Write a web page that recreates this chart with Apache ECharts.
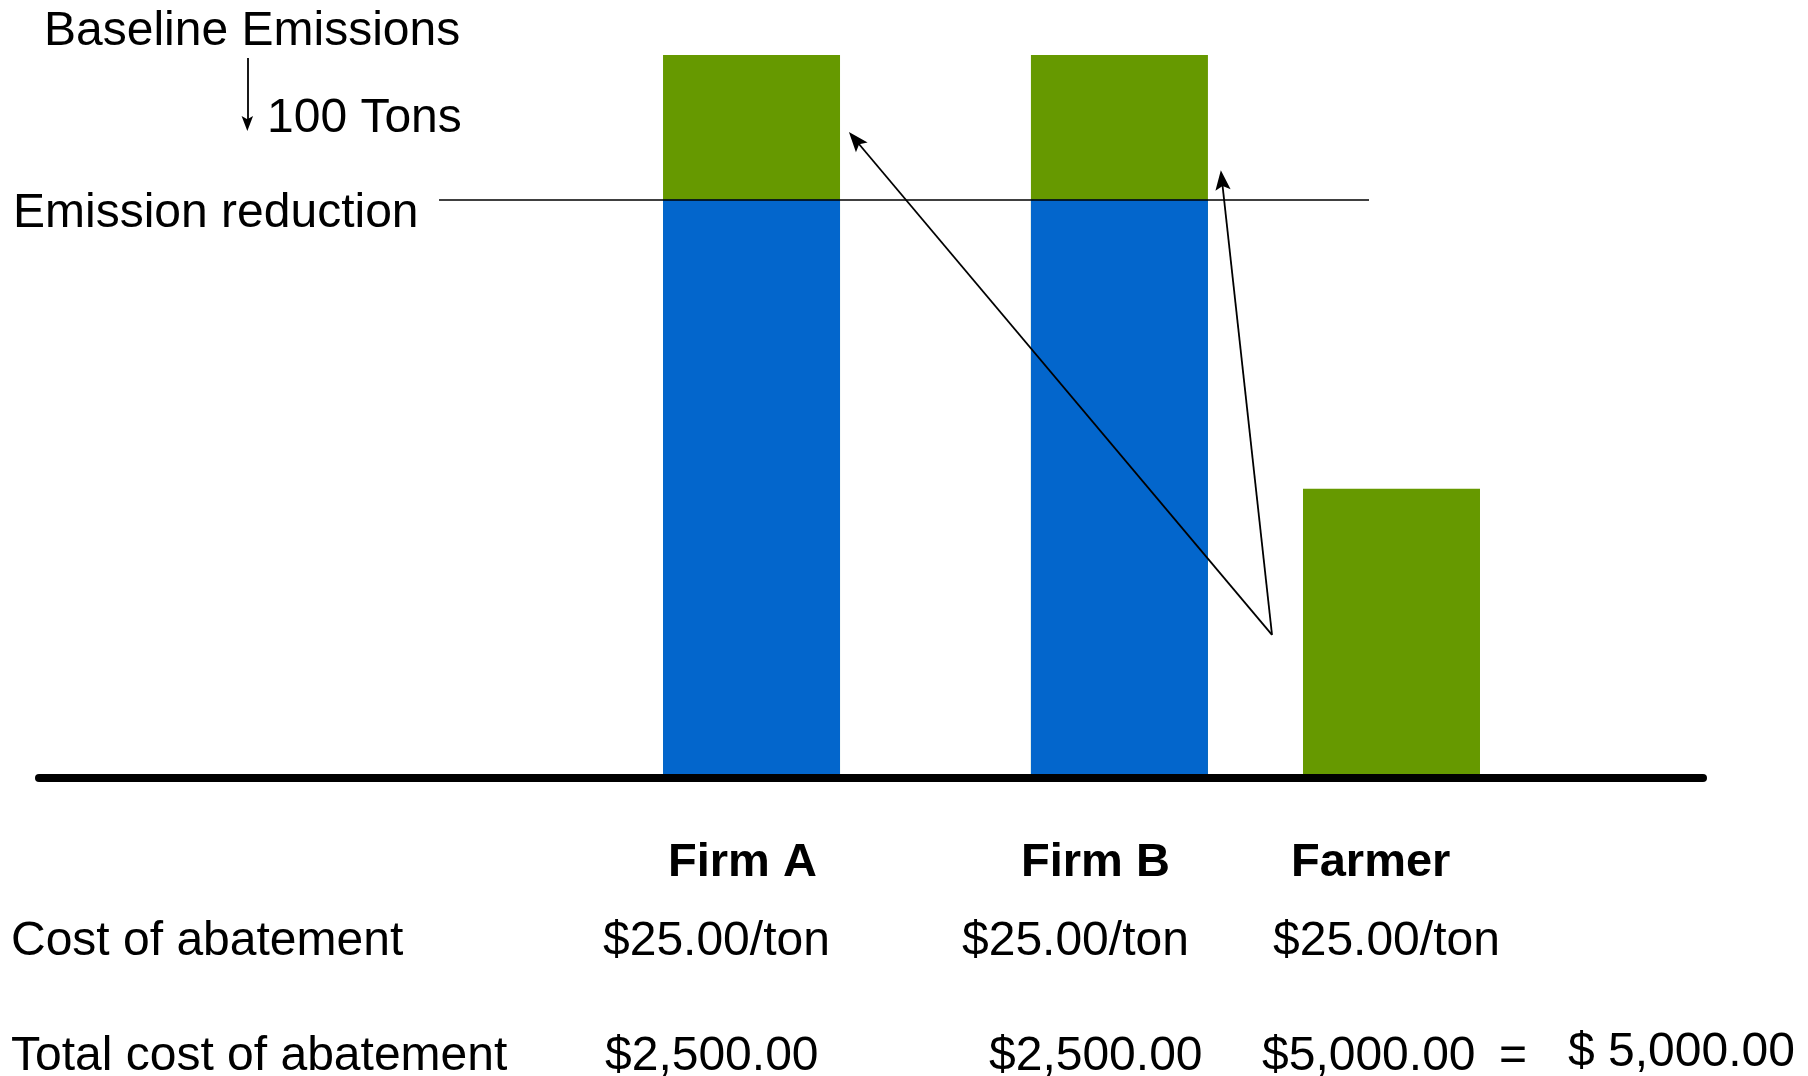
<!DOCTYPE html>
<html><head><meta charset="utf-8">
<script src="https://cdn.jsdelivr.net/npm/echarts@6/dist/echarts.min.js"></script>
<style>html,body{margin:0;padding:0;background:#fff}#c{width:1808px;height:1076px}</style>
</head><body><div id="c"></div>
<script>
// ---- data ----
const categories = ['Firm A', 'Firm B', 'Farmer'];
const remainingEmissions = [400, 400, 0];   // tons after reduction (blue part)
const abatedEmissions = [100, 100, 200];    // tons abated (green part)
const emissionReductionLevel = 400;
const baselineLevel = 500;
const costPerTonLabels = ['$25.00/ton', '$25.00/ton', '$25.00/ton'];
const totalCostLabels = ['$2,500.00', '$2,500.00', '$5,000.00'];
const sumLabel = '$ 5,000.00';
const rowLabels = ['Cost of abatement', 'Total cost of abatement'];
const annotationLabels = ['Baseline Emissions', '100 Tons', 'Emission reduction'];

// ---- layout (x-axis units 0..100 across the grid) ----
const barCenters = [42.82, 64.93, 81.28];
const FONT = '"Liberation Sans", Arial, Helvetica, sans-serif';

function txt(text, x, y, bold, size) {
  return {
    type: 'text', x: x, y: y, silent: true,
    style: {
      text: text, fill: '#000',
      font: (bold ? 'bold ' : '') + (size || 48) + 'px ' + FONT,
      textAlign: 'left', align: 'left',
      textVerticalAlign: 'middle', verticalAlign: 'middle'
    }
  };
}

const labelX = [668, 1021, 1291];
const costX = [603, 962, 1273];
const totalX = [605, 989, 1262];

const graphics = [
  txt(annotationLabels[0], 44, 32),
  txt(annotationLabels[1], 267, 119),
  txt(annotationLabels[2], 13, 214),
  txt(rowLabels[0], 11, 942),
  txt(rowLabels[1], 11, 1057),
  txt('=', 1499, 1057),
  txt(sumLabel, 1568, 1053)
];
categories.forEach((c, i) => {
  graphics.push(txt(c, labelX[i], 863, true, 47));
  graphics.push(txt(costPerTonLabels[i], costX[i], 942));
  graphics.push(txt(totalCostLabels[i], totalX[i], 1057));
});

const ARROW = 'path://M6.5,0 L13,17 L6.5,13.5 L0,17 Z';
const arrowStyle = { color: '#000', width: 1.8, type: 'solid' };

const baselineTotals = remainingEmissions.map((v, i) => v + abatedEmissions[i]);

const option = {
  animation: false,
  backgroundColor: '#fff',
  grid: { left: 39, right: 105, top: 55, bottom: 298 },
  xAxis: {
    type: 'value', min: 0, max: 100, z: 10,
    axisLine: { show: true, onZero: true, lineStyle: { color: '#000', width: 8 } },
    axisTick: { show: false }, axisLabel: { show: false }, splitLine: { show: false }
  },
  yAxis: {
    type: 'value', min: 0, max: baselineLevel, show: false,
    splitLine: { show: false }
  },
  series: [
    {
      name: 'Abated emissions', type: 'bar', barWidth: 177, barGap: '-100%',
      itemStyle: { color: '#669900' },
      emphasis: { disabled: true },
      data: barCenters.map((x, i) => [x, baselineTotals[i]]),
      markLine: {
        silent: true, symbol: ['none', ARROW], symbolSize: 20, symbolKeepAspect: true,
        label: { show: false },
        lineStyle: arrowStyle,
        itemStyle: { color: '#000' },
        emphasis: { disabled: true },
        z: 6,
        data: [
          [{ coord: [74.1, 99] }, { coord: [49.06, 441.4] }],
          [{ coord: [74.1, 99] }, { coord: [71.09, 413.5] }],
          [{ coord: [12.52, 497.9] }, { coord: [12.52, 452.6], symbolSize: 15 }]
        ]
      }
    },
    {
      name: 'Remaining emissions', type: 'bar', barWidth: 177, barGap: '-100%',
      itemStyle: { color: '#0366CC' },
      emphasis: { disabled: true },
      data: barCenters.map((x, i) => [x, remainingEmissions[i]]),
      markLine: {
        silent: true, symbol: 'none', label: { show: false },
        lineStyle: { color: '#000', width: 1.6, type: 'solid' },
        emphasis: { disabled: true },
        z: 5,
        data: [
          [{ coord: [24.04, emissionReductionLevel] }, { coord: [79.93, emissionReductionLevel] }]
        ]
      }
    }
  ],
  graphic: graphics
};

const chart = echarts.init(document.getElementById('c'), null, { renderer: 'canvas' });
chart.setOption(option);
</script>
</body></html>
